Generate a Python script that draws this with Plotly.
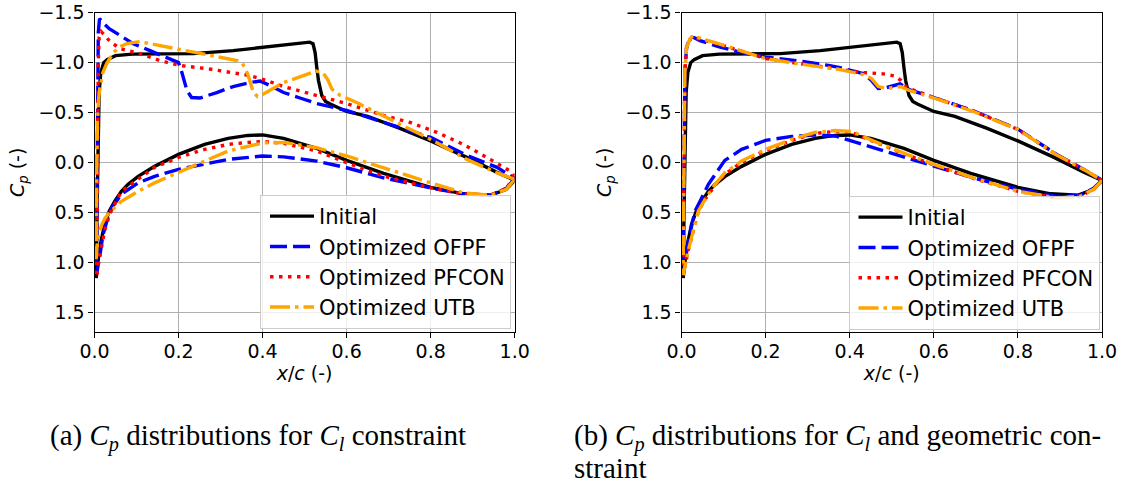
import plotly.graph_objects as go

# ---------------------------------------------------------------------------
# Pressure coefficient distributions (upper and lower surface, LE -> TE)
# ---------------------------------------------------------------------------

# Initial airfoil (same in both panels)
init_up_x = [0.004, 0.006, 0.008, 0.011, 0.015, 0.022, 0.03, 0.05, 0.09, 0.15, 0.235, 0.33, 0.41, 0.49, 0.512,
             0.52, 0.525, 0.529, 0.533, 0.541, 0.55, 0.561, 0.58, 0.6, 0.65, 0.727, 0.8, 0.886, 0.958, 1.0]
init_up_cp = [1.16, 0.5, -0.2, -0.7, -0.9, -1.0, -1.03, -1.07, -1.085, -1.09, -1.09, -1.12, -1.155, -1.195, -1.205,
              -1.19, -1.1, -0.95, -0.82, -0.67, -0.61, -0.585, -0.55, -0.51, -0.46, -0.34, -0.215, -0.05, 0.10, 0.18]
init_lo_x = [0.004, 0.008, 0.015, 0.024, 0.035, 0.048, 0.064, 0.08, 0.104, 0.143, 0.2, 0.262, 0.318, 0.365, 0.4,
             0.45, 0.529, 0.6, 0.688, 0.8, 0.878, 0.942, 0.98, 1.0]
init_lo_cp = [1.16, 1.0, 0.80, 0.62, 0.49, 0.39, 0.29, 0.22, 0.14, 0.04, -0.08, -0.18, -0.24, -0.27, -0.275,
              -0.24, -0.14, -0.02, 0.11, 0.25, 0.315, 0.33, 0.27, 0.18]

# (a) Cl constraint
a_ofpf_up_x = [0.005, 0.006, 0.007, 0.008, 0.009, 0.012, 0.02, 0.035, 0.053, 0.092, 0.132, 0.172, 0.2, 0.208, 0.22,
               0.231, 0.251, 0.291, 0.33, 0.37, 0.394, 0.418, 0.45, 0.489, 0.529, 0.6, 0.688, 0.8, 0.886, 0.958, 1.0]
a_ofpf_up_cp = [1.12, 0.3, -0.5, -1.0, -1.3, -1.44, -1.40, -1.34, -1.29, -1.19, -1.12, -1.05, -1.0, -0.90, -0.72,
                -0.65, -0.645, -0.70, -0.76, -0.80, -0.815, -0.77, -0.70, -0.645, -0.59, -0.52, -0.40, -0.25, -0.07,
                0.05, 0.16]
a_ofpf_lo_x = [0.005, 0.008, 0.014, 0.02, 0.03, 0.04, 0.064, 0.104, 0.143, 0.2, 0.262, 0.318, 0.4, 0.45, 0.529,
               0.6, 0.688, 0.8, 0.878, 0.942, 0.98, 1.0]
a_ofpf_lo_cp = [1.12, 1.06, 0.9, 0.73, 0.58, 0.46, 0.32, 0.205, 0.14, 0.07, 0.014, -0.03, -0.064, -0.055, -0.013,
                0.054, 0.155, 0.256, 0.316, 0.33, 0.26, 0.16]

a_pfcon_up_x = [0.005, 0.006, 0.007, 0.009, 0.011, 0.016, 0.025, 0.037, 0.061, 0.108, 0.156, 0.204, 0.267, 0.33,
                0.37, 0.41, 0.45, 0.529, 0.6, 0.688, 0.751, 0.815, 0.878, 0.942, 0.99, 1.0]
a_pfcon_up_cp = [1.15, 0.4, -0.4, -1.0, -1.25, -1.31, -1.27, -1.21, -1.14, -1.09, -1.02, -0.97, -0.94, -0.90,
                 -0.87, -0.82, -0.76, -0.67, -0.59, -0.47, -0.40, -0.30, -0.18, -0.03, 0.09, 0.14]
a_pfcon_lo_x = [0.005, 0.01, 0.016, 0.024, 0.036, 0.048, 0.064, 0.104, 0.143, 0.2, 0.262, 0.318, 0.365, 0.4, 0.45,
                0.529, 0.6, 0.688, 0.8, 0.878, 0.942, 0.98, 1.0]
a_pfcon_lo_cp = [1.15, 1.0, 0.85, 0.69, 0.52, 0.42, 0.29, 0.17, 0.05, -0.05, -0.13, -0.18, -0.20, -0.21, -0.19,
                 -0.114, 0.004, 0.138, 0.256, 0.316, 0.33, 0.26, 0.14]

a_utb_up_x = [0.004, 0.005, 0.007, 0.01, 0.013, 0.02, 0.029, 0.045, 0.061, 0.077, 0.108, 0.156, 0.22, 0.283, 0.34,
              0.352, 0.358, 0.365, 0.37, 0.378, 0.388, 0.4, 0.45, 0.505, 0.528, 0.545, 0.555, 0.565, 0.585, 0.624,
              0.688, 0.727, 0.8, 0.886, 0.958, 1.0]
a_utb_up_cp = [0.97, 0.2, -0.4, -0.65, -0.75, -0.9, -0.99, -1.10, -1.16, -1.19, -1.21, -1.17, -1.12, -1.07, -1.02,
               -0.99, -0.95, -0.88, -0.82, -0.70, -0.66, -0.68, -0.80, -0.887, -0.915, -0.89, -0.83, -0.735, -0.67,
               -0.60, -0.467, -0.38, -0.23, -0.03, 0.105, 0.17]
a_utb_lo_x = [0.004, 0.006, 0.01, 0.018, 0.025, 0.036, 0.064, 0.104, 0.143, 0.2, 0.262, 0.318, 0.365, 0.4, 0.45,
              0.529, 0.6, 0.688, 0.8, 0.878, 0.942, 0.98, 1.0]
a_utb_lo_cp = [0.97, 0.85, 0.72, 0.62, 0.56, 0.50, 0.39, 0.29, 0.205, 0.105, -0.013, -0.114, -0.164, -0.195, -0.20,
               -0.147, -0.064, 0.054, 0.205, 0.306, 0.33, 0.27, 0.17]

# (b) Cl and geometric constraint
b_ofpf_up_x = [0.004, 0.005, 0.006, 0.008, 0.012, 0.02, 0.03, 0.044, 0.092, 0.139, 0.2, 0.274, 0.353, 0.377, 0.432,
               0.452, 0.468, 0.488, 0.52, 0.543, 0.6, 0.694, 0.8, 0.892, 0.964, 1.0]
b_ofpf_up_cp = [1.13, 0.5, -0.3, -0.9, -1.15, -1.256, -1.25, -1.22, -1.155, -1.105, -1.055, -1.02, -0.97, -0.95,
                -0.89, -0.82, -0.74, -0.75, -0.786, -0.726, -0.65, -0.517, -0.333, -0.08, 0.088, 0.18]
b_ofpf_lo_x = [0.004, 0.008, 0.016, 0.032, 0.048, 0.064, 0.088, 0.103, 0.143, 0.2, 0.262, 0.317, 0.365, 0.405,
               0.456, 0.536, 0.6, 0.694, 0.8, 0.892, 0.948, 0.98, 1.0]
b_ofpf_lo_cp = [1.13, 1.05, 0.79, 0.49, 0.357, 0.22, 0.07, -0.02, -0.13, -0.22, -0.26, -0.275, -0.265, -0.22,
                -0.147, -0.046, 0.037, 0.155, 0.27, 0.34, 0.33, 0.26, 0.18]

b_pfcon_up_x = [0.004, 0.005, 0.006, 0.008, 0.012, 0.02, 0.028, 0.04, 0.076, 0.139, 0.2, 0.274, 0.353, 0.377, 0.432,
                0.48, 0.508, 0.522, 0.536, 0.6, 0.694, 0.8, 0.892, 0.964, 1.0]
b_pfcon_up_cp = [1.12, 0.5, -0.4, -0.9, -1.15, -1.23, -1.25, -1.24, -1.2, -1.12, -1.04, -0.995, -0.945, -0.93,
                 -0.90, -0.887, -0.865, -0.82, -0.75, -0.65, -0.515, -0.33, -0.078, 0.09, 0.18]
b_pfcon_lo_x = [0.004, 0.008, 0.015, 0.024, 0.04, 0.056, 0.08, 0.103, 0.143, 0.2, 0.262, 0.317, 0.365, 0.405, 0.456,
                0.536, 0.6, 0.694, 0.8, 0.892, 0.948, 0.98, 1.0]
b_pfcon_lo_cp = [1.12, 1.05, 0.9, 0.75, 0.49, 0.37, 0.23, 0.12, 0.0, -0.12, -0.22, -0.29, -0.31, -0.30, -0.21,
                 -0.075, 0.025, 0.16, 0.29, 0.355, 0.34, 0.27, 0.18]

b_utb_up_x = [0.004, 0.005, 0.006, 0.008, 0.012, 0.02, 0.028, 0.04, 0.076, 0.139, 0.2, 0.274, 0.353, 0.377, 0.432,
              0.452, 0.468, 0.488, 0.52, 0.543, 0.6, 0.694, 0.8, 0.892, 0.964, 1.0]
b_utb_up_cp = [1.13, 0.5, -0.4, -0.9, -1.15, -1.24, -1.27, -1.25, -1.205, -1.12, -1.04, -0.99, -0.94, -0.93, -0.88,
               -0.84, -0.76, -0.74, -0.76, -0.72, -0.645, -0.51, -0.33, -0.075, 0.09, 0.18]
b_utb_lo_x = [0.004, 0.008, 0.015, 0.024, 0.04, 0.056, 0.08, 0.103, 0.143, 0.2, 0.262, 0.317, 0.365, 0.405, 0.456,
              0.536, 0.6, 0.694, 0.8, 0.892, 0.948, 0.98, 1.0]
b_utb_lo_cp = [1.13, 1.05, 0.9, 0.75, 0.49, 0.37, 0.22, 0.105, -0.013, -0.13, -0.23, -0.30, -0.32, -0.31, -0.215,
               -0.08, 0.02, 0.155, 0.29, 0.357, 0.34, 0.27, 0.18]

series_names = ["Initial", "Optimized OFPF", "Optimized PFCON", "Optimized UTB"]
x_ticks = [0.0, 0.2, 0.4, 0.6, 0.8, 1.0]
x_ticktext = ["0.0", "0.2", "0.4", "0.6", "0.8", "1.0"]
y_ticks = [-1.5, -1.0, -0.5, 0.0, 0.5, 1.0, 1.5]
y_ticktext = ["\u22121.5", "\u22121.0", "\u22120.5", "0.0", "0.5", "1.0", "1.5"]

captions = [
    "(a) <i>C</i><sub><i>p</i></sub> distributions for <i>C</i><sub><i>l</i></sub> constraint",
    "(b) <i>C</i><sub><i>p</i></sub> distributions for <i>C</i><sub><i>l</i></sub> and geometric con-",
    "straint",
]

# ---------------------------------------------------------------------------
styles = [
    dict(color="black", dash="solid"),
    dict(color="#0000ff", dash="17px,6px"),
    dict(color="#ff0000", dash="3.5px,5.5px"),
    dict(color="#ffa500", dash="20px,5px,3.5px,5px"),
]
LW = 3.4
FONT = "DejaVu Sans"


def closed_loop(up_x, up_cp, lo_x, lo_cp):
    # trailing edge -> lower surface -> leading edge -> upper surface -> trailing edge
    xs = list(reversed(lo_x)) + list(up_x[1:])
    ys = list(reversed(lo_cp)) + list(up_cp[1:])
    return xs, ys


panels = [
    [(init_up_x, init_up_cp, init_lo_x, init_lo_cp),
     (a_ofpf_up_x, a_ofpf_up_cp, a_ofpf_lo_x, a_ofpf_lo_cp),
     (a_pfcon_up_x, a_pfcon_up_cp, a_pfcon_lo_x, a_pfcon_lo_cp),
     (a_utb_up_x, a_utb_up_cp, a_utb_lo_x, a_utb_lo_cp)],
    [(init_up_x, init_up_cp, init_lo_x, init_lo_cp),
     (b_ofpf_up_x, b_ofpf_up_cp, b_ofpf_lo_x, b_ofpf_lo_cp),
     (b_pfcon_up_x, b_pfcon_up_cp, b_pfcon_lo_x, b_pfcon_lo_cp),
     (b_utb_up_x, b_utb_up_cp, b_utb_lo_x, b_utb_lo_cp)],
]

W, H = 1128, 482
fig = go.Figure()

for p, curves in enumerate(panels):
    xa = "x" if p == 0 else "x2"
    ya = "y" if p == 0 else "y2"
    lg = "legend" if p == 0 else "legend2"
    for name, curve, st in zip(series_names, curves, styles):
        xs, ys = closed_loop(*curve)
        fig.add_trace(go.Scatter(
            x=xs, y=ys, mode="lines", name=name, xaxis=xa, yaxis=ya, legend=lg,
            line=dict(color=st["color"], dash=st["dash"], width=LW),
        ))

# panel placement in pixels
plot_top, plot_bot = 12.7, 332.0
panel_x = [(94.5, 514.7), (681.5, 1102.0)]

axis_common = dict(
    showline=True, linecolor="black", linewidth=1.2, mirror=True,
    ticks="outside", ticklen=5, tickwidth=1.2, tickcolor="black",
    showgrid=True, gridcolor="#b0b0b0", gridwidth=1, zeroline=False,
    tickfont=dict(family=FONT, size=19, color="black"), automargin=False,
)

for p, (x0, x1) in enumerate(panel_x):
    sfx = "" if p == 0 else "2"
    fig.layout["xaxis" + sfx] = dict(
        axis_common, domain=[x0 / W, x1 / W], range=[0, 1], anchor="y" + sfx,
        tickvals=x_ticks, ticktext=x_ticktext, ticklabelstandoff=-3,
        title=dict(text="<i>x</i>/<i>c</i> (-)", font=dict(family=FONT, size=19, color="black"), standoff=0),
    )
    fig.layout["yaxis" + sfx] = dict(
        axis_common, domain=[1 - plot_bot / H, 1 - plot_top / H], range=[1.7, -1.5], anchor="x" + sfx,
        tickvals=y_ticks, ticktext=y_ticktext,
        title=dict(text="<i>C</i><sub><i>p</i></sub> (-)", font=dict(family=FONT, size=19, color="black"),
                   standoff=8),
    )

legend_common = dict(
    bgcolor="rgba(255,255,255,0.8)", bordercolor="#cccccc", borderwidth=1,
    font=dict(family=FONT, size=21, color="black"),
    xanchor="left", yanchor="top", itemwidth=44, indentation=4, tracegroupgap=0,
)
fig.update_layout(
    width=W, height=H, margin=dict(l=0, r=0, t=0, b=0, autoexpand=False),
    paper_bgcolor="white", plot_bgcolor="white",
    legend=dict(legend_common, x=260 / W, y=1 - 195 / H),
    legend2=dict(legend_common, x=848.5 / W, y=1 - 196 / H),
)

cap_font = dict(family="Liberation Serif", size=29, color="black")
fig.add_annotation(text=captions[0], xref="paper", yref="paper", x=48 / W, y=1 - 437 / H,
                   xanchor="left", yanchor="middle", showarrow=False, font=cap_font)
fig.add_annotation(text=captions[1], xref="paper", yref="paper", x=572 / W, y=1 - 437 / H,
                   xanchor="left", yanchor="middle", showarrow=False, font=cap_font)
fig.add_annotation(text=captions[2], xref="paper", yref="paper", x=572 / W, y=1 - 468 / H,
                   xanchor="left", yanchor="middle", showarrow=False, font=cap_font)

fig.write_html("out.html")
